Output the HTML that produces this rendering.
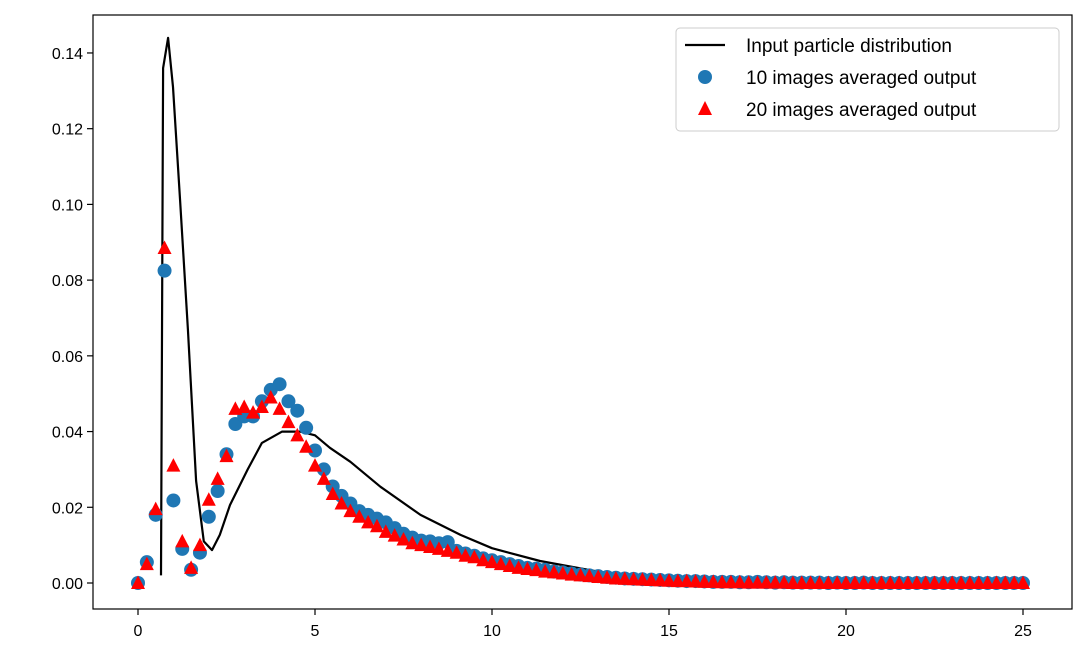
<!DOCTYPE html>
<html><head><meta charset="utf-8"><style>
html,body{margin:0;padding:0;background:#fff;}
svg{display:block;font-family:"Liberation Sans","DejaVu Sans",sans-serif;}
</style></head><body>
<svg id="chart" width="1092" height="667" viewBox="0 0 1092 667" xmlns="http://www.w3.org/2000/svg">
<rect x="0" y="0" width="1092" height="667" fill="#fff"/>
<g id="marks"></g>
<g id="axes"></g>
<g id="legend">
  <rect x="676" y="28" width="383" height="103" rx="4" fill="#fff" fill-opacity="0.85" stroke="#ccc" stroke-width="1"/>
  <line x1="685" y1="45" x2="725" y2="45" stroke="#000" stroke-width="2.2"/>
  <text x="746" y="52" font-size="19" fill="#000">Input particle distribution</text>
  <circle cx="705" cy="77" r="7" fill="#1f77b4"/>
  <text x="746" y="84" font-size="19" fill="#000">10 images averaged output</text>
  <polygon points="705,101 712,115 698,115" fill="#ff0000"/>
  <text x="746" y="116" font-size="19" fill="#000">20 images averaged output</text>
</g>
</svg>
<script>
const xTicks=[0,5,10,15,20,25];
const yTicks=[0,0.02,0.04,0.06,0.08,0.10,0.12,0.14];
const yTickLabels=["0.00","0.02","0.04","0.06","0.08","0.10","0.12","0.14"];
const lineX=[0.65,0.71,0.85,0.99,1.19,1.41,1.64,1.86,2.09,2.31,2.6,3.1,3.5,4.07,4.58,5.0,5.42,6.0,6.85,7.98,9.11,10.0,11.36,13.05,15.0,17.29,20.11,25.0];
const lineY=[0.002,0.136,0.144,0.131,0.101,0.067,0.027,0.011,0.0087,0.0127,0.0206,0.030,0.037,0.040,0.040,0.039,0.0357,0.032,0.0254,0.018,0.0127,0.0092,0.0058,0.0029,0.0013,0.0005,0.0002,0];
const dotStep=0.25;
const dots10=[0,0.0055,0.018,0.0825,0.0218,0.009,0.0035,0.008,0.0175,0.0243,0.034,0.042,0.044,0.044,0.048,0.051,0.0525,0.048,0.0455,0.041,0.035,0.030,0.0255,0.023,0.021,0.019,0.018,0.017,0.016,0.0145,0.013,0.012,0.0112,0.011,0.0105,0.0108,0.0085,0.0078,0.0072,0.0065,0.006,0.0055,0.005,0.0045,0.004,0.0038,0.0035,0.003,0.0028,0.0025,0.0022,0.002,0.0018,0.0016,0.0014,0.0012,0.0011,0.001,0.0009,0.0008,0.0007,0.0006,0.0005,0.0005,0.0004,0.0003,0.0003,0.0003,0.0002,0.0002,0.0003,0.0002,0.0001,0.0002,0.0001,0.0001,0.0001,0.0001,0,0.0001,0,0,0.0001,0,0,0,0,0,0,0,0,0,0,0,0,0,0,0,0,0,0];
const tris20=[0,0.005,0.0195,0.0885,0.031,0.011,0.004,0.010,0.022,0.0275,0.0335,0.046,0.0465,0.045,0.0465,0.049,0.046,0.0425,0.039,0.036,0.031,0.0275,0.0235,0.021,0.019,0.0175,0.016,0.015,0.0135,0.0125,0.0115,0.0105,0.010,0.0095,0.009,0.0085,0.008,0.0072,0.0068,0.006,0.0055,0.005,0.0045,0.004,0.0037,0.0034,0.003,0.0028,0.0025,0.0022,0.002,0.0018,0.0016,0.0014,0.0012,0.0011,0.001,0.0009,0.0008,0.0007,0.0006,0.0005,0.0005,0.0004,0.0003,0.0003,0.0002,0.0002,0.0002,0.0001,0.0001,0.0001,0.0001,0.0001,0,0,0,0,0,0,0,0,0,0,0,0,0,0,0,0,0,0,0,0,0,0,0,0,0,0,0];

const NS="http://www.w3.org/2000/svg";
const X0=93,X1=1072,Y0=15,Y1=609;
function sx(v){return 138+v*35.4;}
function sy(v){return 583-v*3786;}
function mk(tag,attrs,parent){const e=document.createElementNS(NS,tag);for(const k in attrs)e.setAttribute(k,attrs[k]);parent.appendChild(e);return e;}
const marks=document.getElementById('marks');
const axes=document.getElementById('axes');

let d="";
lineX.forEach((x,i)=>{d+=(i?"L":"M")+sx(x).toFixed(1)+","+sy(lineY[i]).toFixed(1);});
const ln=mk('path',{d:d,fill:"none",stroke:"#000","stroke-width":2.2,"stroke-linejoin":"round"},marks);



dots10.forEach((v,i)=>{
  const c=mk('circle',{cx:sx(i*dotStep),cy:sy(v),r:7,fill:"#1f77b4"},marks);
  
  
});
tris20.forEach((v,i)=>{
  const x=sx(i*dotStep),y=sy(v);
  const p=mk('polygon',{points:`${x},${y-7.5} ${x+7},${y+6} ${x-7},${y+6}`,fill:"#ff0000"},marks);
  
  
});

const fr=mk('rect',{x:X0,y:Y0,width:X1-X0,height:Y1-Y0,fill:"none",stroke:"#000","stroke-width":1.2},axes);


xTicks.forEach(t=>{
  const x=sx(t);
  const tk=mk('line',{x1:x,y1:Y1,x2:x,y2:Y1+6,stroke:"#000","stroke-width":1.2},axes);
  
  
  const tx=mk('text',{x:x,y:Y1+27,"font-size":16,"text-anchor":"middle",fill:"#000"},axes);
  tx.textContent=String(t);
  
  
});
yTicks.forEach((t,i)=>{
  const y=sy(t);
  const tk=mk('line',{x1:X0-6,y1:y,x2:X0,y2:y,stroke:"#000","stroke-width":1.2},axes);
  
  
  const tx=mk('text',{x:X0-10,y:y+6,"font-size":16,"text-anchor":"end",fill:"#000"},axes);
  tx.textContent=yTickLabels[i];
  
  
});
</script>
</body></html>
